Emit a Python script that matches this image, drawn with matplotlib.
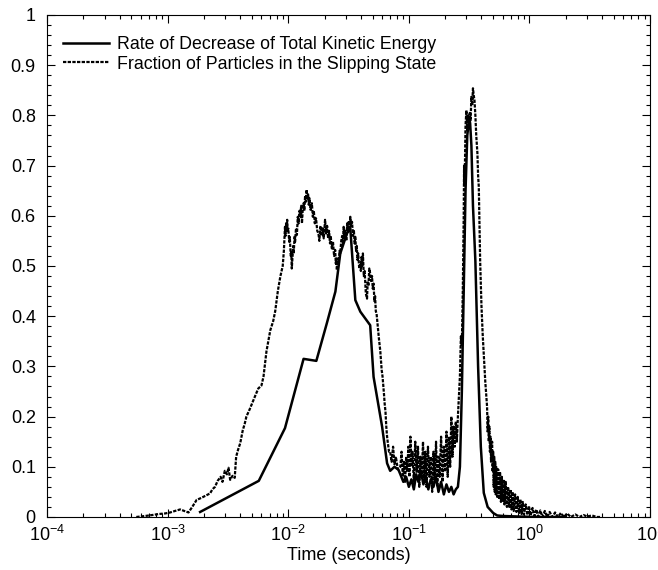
import matplotlib
matplotlib.use("Agg")
import matplotlib.pyplot as plt
from matplotlib.ticker import MultipleLocator, LogLocator, FormatStrFormatter

plt.rcParams['font.family'] = ['Liberation Sans', 'DejaVu Sans']

# Rate of decrease of total kinetic energy (solid)
rate_t = [0.00186, 0.0057, 0.0094, 0.0134, 0.0171, 0.0209, 0.0246, 0.027, 0.0307, 0.0327,
          0.036, 0.0396, 0.0478, 0.051, 0.060, 0.066, 0.070, 0.076, 0.082,
          0.085, 0.090, 0.095, 0.100, 0.105, 0.110, 0.115, 0.120, 0.126, 0.132, 0.138,
          0.145, 0.152, 0.160, 0.168, 0.176, 0.185, 0.195, 0.205, 0.215, 0.225, 0.235,
          0.245, 0.255, 0.265, 0.275, 0.285, 0.295, 0.305, 0.315, 0.322, 0.330, 0.340,
          0.356, 0.375, 0.395, 0.418, 0.45, 0.50, 0.54, 0.60, 0.8, 1.2, 2.0]
rate_val = [0.010, 0.072, 0.177, 0.315, 0.311, 0.386, 0.449, 0.525, 0.565, 0.575,
            0.432, 0.409, 0.382, 0.279, 0.180, 0.107, 0.092, 0.100, 0.094,
            0.085, 0.070, 0.080, 0.060, 0.075, 0.055, 0.085, 0.070, 0.090, 0.065, 0.080,
            0.055, 0.075, 0.060, 0.080, 0.050, 0.070, 0.045, 0.065, 0.050, 0.060, 0.045,
            0.055, 0.060, 0.100, 0.250, 0.450, 0.650, 0.760, 0.790, 0.785, 0.740, 0.620,
            0.510, 0.300, 0.140, 0.048, 0.020, 0.008, 0.003, 0.002, 0.001, 0.0, 0.0]

# Fraction of particles in the slipping state (dotted, noisy)
slip_t = [5.5e-4, 6.5e-4, 7.5e-4, 8.5e-4, 9.5e-4, 1.05e-3, 1.15e-3, 1.27e-3, 1.38e-3, 1.49e-3,
          1.60e-3, 1.74e-3, 1.90e-3, 2.05e-3, 2.25e-3, 2.35e-3, 2.47e-3, 2.60e-3, 2.75e-3, 2.85e-3,
          2.98e-3, 3.10e-3, 3.20e-3, 3.30e-3, 3.45e-3, 3.60e-3, 3.70e-3, 3.85e-3, 4.00e-3, 4.20e-3,
          4.35e-3, 4.50e-3, 4.80e-3, 5.15e-3, 5.40e-3, 5.65e-3, 6.00e-3, 6.24e-3, 6.60e-3, 7.10e-3,
          7.50e-3, 7.80e-3, 8.20e-3, 8.60e-3, 9.00e-3, 9.20e-3, 9.40e-3, 9.50e-3, 9.60e-3, 9.70e-3,
          9.80e-3, 9.90e-3, 1.00e-2, 1.02e-2, 1.03e-2, 1.05e-2, 1.06e-2, 1.07e-2, 1.08e-2, 1.10e-2,
          1.11e-2, 1.13e-2, 1.14e-2, 1.16e-2, 1.18e-2, 1.20e-2, 1.22e-2, 1.24e-2, 1.26e-2, 1.28e-2,
          1.30e-2, 1.32e-2, 1.34e-2, 1.36e-2, 1.38e-2, 1.40e-2, 1.42e-2, 1.44e-2, 1.46e-2, 1.48e-2,
          1.50e-2, 1.53e-2, 1.57e-2, 1.60e-2, 1.63e-2, 1.66e-2, 1.70e-2, 1.74e-2, 1.78e-2, 1.81e-2,
          1.85e-2, 1.89e-2, 1.93e-2, 1.97e-2, 2.02e-2, 2.06e-2, 2.10e-2, 2.14e-2, 2.18e-2, 2.22e-2,
          2.25e-2, 2.30e-2, 2.35e-2, 2.40e-2, 2.45e-2, 2.48e-2, 2.50e-2, 2.53e-2, 2.55e-2, 2.58e-2,
          2.62e-2, 2.66e-2, 2.70e-2, 2.75e-2, 2.80e-2, 2.84e-2, 2.88e-2, 2.93e-2, 2.98e-2, 3.03e-2,
          3.08e-2, 3.13e-2, 3.18e-2, 3.22e-2, 3.27e-2, 3.32e-2, 3.38e-2, 3.44e-2, 3.50e-2, 3.55e-2,
          3.60e-2, 3.65e-2, 3.70e-2, 3.75e-2, 3.80e-2, 3.88e-2, 3.96e-2, 4.00e-2, 4.05e-2, 4.10e-2,
          4.16e-2, 4.23e-2, 4.30e-2, 4.40e-2, 4.50e-2, 4.56e-2, 4.62e-2, 4.70e-2, 4.78e-2, 4.86e-2,
          4.95e-2, 5.02e-2, 5.10e-2, 5.18e-2, 5.25e-2, 5.32e-2, 5.40e-2, 5.50e-2, 5.65e-2, 5.80e-2,
          5.95e-2, 6.05e-2, 6.15e-2, 6.22e-2, 6.30e-2, 6.40e-2, 6.50e-2, 6.60e-2, 6.70e-2, 6.85e-2,
          7.00e-2, 7.20e-2, 7.40e-2, 7.60e-2, 7.80e-2, 8.10e-2, 8.50e-2,
          0.087, 0.089, 0.091, 0.093, 0.095, 0.097, 0.099, 0.101, 0.103, 0.105,
          0.107, 0.110, 0.113, 0.116, 0.119, 0.122, 0.125, 0.128, 0.131, 0.134,
          0.137, 0.140, 0.144, 0.148, 0.152, 0.156, 0.160, 0.164, 0.168, 0.172,
          0.176, 0.180, 0.185, 0.190, 0.195, 0.200, 0.205, 0.210, 0.215, 0.220,
          0.225, 0.230, 0.235, 0.240, 0.245, 0.250, 0.255, 0.260,
          0.265, 0.270, 0.275, 0.280, 0.285, 0.287, 0.290, 0.295, 0.300, 0.305,
          0.310, 0.315, 0.320, 0.325, 0.330, 0.335, 0.340, 0.345, 0.350, 0.356,
          0.362, 0.370, 0.375, 0.380, 0.385, 0.390, 0.400, 0.410, 0.420, 0.430,
          0.445, 0.450, 0.455, 0.460, 0.465, 0.470, 0.475, 0.480, 0.490, 0.495,
          0.500, 0.505, 0.510, 0.515, 0.520, 0.525, 0.530, 0.540, 0.550, 0.560,
          0.570, 0.580, 0.590, 0.600, 0.610, 0.620, 0.635, 0.650, 0.665, 0.680,
          0.695, 0.710, 0.725, 0.740, 0.760, 0.780, 0.800, 0.820, 0.840, 0.860,
          0.880, 0.900, 0.930, 0.960, 0.990, 1.02, 1.06, 1.10, 1.14, 1.18,
          1.23, 1.28, 1.34, 1.40, 1.47, 1.55, 1.63, 1.72, 1.82, 1.93,
          2.05, 2.20, 2.40, 2.60, 2.80, 3.00, 3.30, 3.60, 3.90]
slip_val = [0.000, 0.002, 0.004, 0.006, 0.007, 0.009, 0.012, 0.015, 0.012, 0.009,
            0.020, 0.034, 0.038, 0.042, 0.047, 0.055, 0.060, 0.072, 0.080, 0.070,
            0.092, 0.085, 0.098, 0.074, 0.082, 0.078, 0.120, 0.135, 0.147, 0.173,
            0.185, 0.200, 0.215, 0.233, 0.245, 0.256, 0.262, 0.280, 0.330, 0.372,
            0.390, 0.410, 0.450, 0.479, 0.500, 0.530, 0.578, 0.560, 0.585, 0.570,
            0.592, 0.568, 0.575, 0.548, 0.558, 0.520, 0.530, 0.495, 0.510, 0.540,
            0.525, 0.560, 0.548, 0.575, 0.562, 0.598, 0.585, 0.610, 0.598, 0.620,
            0.585, 0.615, 0.625, 0.610, 0.640, 0.628, 0.652, 0.635, 0.645, 0.622,
            0.635, 0.612, 0.625, 0.598, 0.610, 0.585, 0.595, 0.570, 0.565, 0.550,
            0.580, 0.560, 0.575, 0.555, 0.592, 0.565, 0.580, 0.555, 0.570, 0.545,
            0.560, 0.535, 0.548, 0.520, 0.532, 0.505, 0.515, 0.492, 0.500, 0.515,
            0.505, 0.530, 0.525, 0.550, 0.560, 0.545, 0.578, 0.555, 0.570, 0.550,
            0.585, 0.568, 0.590, 0.572, 0.598, 0.580, 0.588, 0.560, 0.572, 0.545,
            0.558, 0.530, 0.540, 0.512, 0.525, 0.495, 0.505, 0.490, 0.518, 0.500,
            0.525, 0.480, 0.490, 0.445, 0.435, 0.470, 0.460, 0.495, 0.485, 0.470,
            0.480, 0.455, 0.465, 0.430, 0.440, 0.410, 0.405, 0.385, 0.355, 0.330,
            0.293, 0.280, 0.260, 0.245, 0.226, 0.210, 0.180, 0.160, 0.147, 0.130,
            0.130, 0.110, 0.140, 0.105, 0.120, 0.095, 0.100,
            0.130, 0.080, 0.110, 0.070, 0.120, 0.090, 0.140, 0.080, 0.160, 0.100,
            0.130, 0.070, 0.150, 0.090, 0.140, 0.060, 0.120, 0.080, 0.150, 0.070,
            0.130, 0.060, 0.140, 0.080, 0.120, 0.050, 0.130, 0.070, 0.150, 0.060,
            0.120, 0.080, 0.160, 0.070, 0.140, 0.090, 0.170, 0.080, 0.160, 0.100,
            0.200, 0.120, 0.180, 0.140, 0.190, 0.150, 0.200, 0.240,
            0.280, 0.360, 0.340, 0.450, 0.600, 0.700, 0.660, 0.780, 0.810, 0.770,
            0.800, 0.780, 0.805, 0.790, 0.837, 0.820, 0.854, 0.840, 0.830, 0.800,
            0.760, 0.725, 0.680, 0.658, 0.580, 0.510, 0.420, 0.360, 0.313, 0.270,
            0.220, 0.170, 0.200, 0.150, 0.180, 0.130, 0.160, 0.110, 0.150, 0.090,
            0.130, 0.060, 0.120, 0.050, 0.110, 0.045, 0.100, 0.040, 0.095, 0.035,
            0.090, 0.030, 0.080, 0.030, 0.075, 0.025, 0.070, 0.020, 0.060, 0.020,
            0.055, 0.015, 0.050, 0.012, 0.045, 0.010, 0.040, 0.008, 0.035, 0.006,
            0.030, 0.005, 0.025, 0.004, 0.022, 0.003, 0.018, 0.002, 0.015, 0.001,
            0.013, 0.000, 0.012, 0.000, 0.010, 0.000, 0.009, 0.000, 0.008, 0.000,
            0.007, 0.000, 0.005, 0.000, 0.004, 0.001, 0.003, 0.000, 0.000]

fig = plt.figure(figsize=(6.58, 5.70), dpi=100)
ax = fig.add_axes([0.0714, 0.093, 0.9166, 0.8807])

ax.plot(rate_t, rate_val, color='black', linewidth=1.8, label='Rate of Decrease of Total Kinetic Energy')
ax.plot(slip_t, slip_val, color='black', linewidth=1.6, linestyle=(0, (1.5, 0.6)),
        label='Fraction of Particles in the Slipping State')

ax.set_xscale('log')
ax.set_xlim(1e-4, 10)
ax.set_ylim(0, 1)
ax.yaxis.set_major_locator(MultipleLocator(0.1))
ax.yaxis.set_minor_locator(MultipleLocator(0.02))
ax.yaxis.set_major_formatter(FormatStrFormatter('%g'))
ax.xaxis.set_major_locator(LogLocator(base=10, numticks=10))
ax.xaxis.set_minor_locator(LogLocator(base=10, subs=range(2, 10), numticks=20))
ax.tick_params(which='both', direction='in', top=True, right=True, labelsize=13, width=0.8)
ax.tick_params(which='major', length=6)
ax.tick_params(which='minor', length=3)
ax.tick_params(axis='x', pad=6)
ax.tick_params(axis='y', pad=8)

ax.set_xlabel('Time (seconds)', fontsize=13, labelpad=1)
ax.legend(loc='upper left', frameon=False, fontsize=12.8, handlelength=2.6, handletextpad=0.45,
          borderaxespad=0.5, labelspacing=0.15, bbox_to_anchor=(0.0, 0.99))

fig.savefig('out.png', dpi=100)
